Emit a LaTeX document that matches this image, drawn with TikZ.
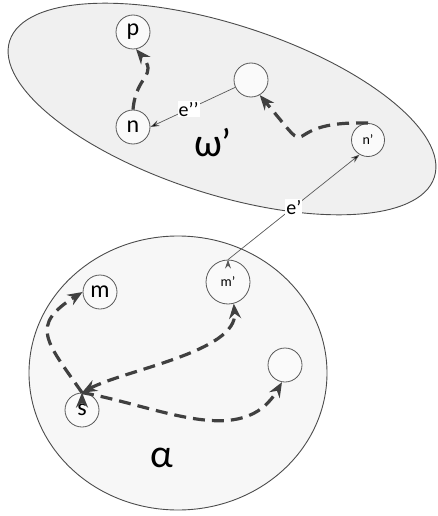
\documentclass[tikz,border=0pt]{standalone}
\usepackage{fontspec}
\setmainfont{Carlito}
\usetikzlibrary{arrows.meta}

\begin{document}
\begin{tikzpicture}[x=1pt,y=-1pt,
    region/.style={draw=black!70,line width=0.9pt},
    state/.style={circle,draw=black!65,fill=black!2,line width=0.8pt,minimum size=34pt,inner sep=0pt,font=\fontsize{24}{24}\selectfont},
    small state/.style={state,font=\fontsize{14}{14}\selectfont},
    walk/.style={draw=black!75,line width=3.2pt,dash pattern=on 12pt off 7pt,-{Stealth[length=15pt,width=12pt,inset=5pt]}},
    link/.style={draw=black!65,line width=0.7pt,-{Stealth[length=9pt,width=6pt]}},
    link label/.style={fill=white,inner sep=1pt,font=\fontsize{20}{20}\selectfont}]
            \useasboundingbox (0,0) rectangle (438,516);

            % the two regions
            \draw[region,fill=black!6,rotate around={-17.8:(222,109)}] (222,109) ellipse [x radius=223pt, y radius=85pt];
            \draw[region,fill=black!3] (178,373) ellipse [x radius=149pt, y radius=137pt];

            \node[font=\fontsize{40}{40}\selectfont] (omega) at (213,143) {ω’};
            \node[font=\fontsize{40}{40}\selectfont] (alpha) at (162,458) {α};

            % upper region
            \node[state] (p) at (133,32) {p};
            \node[state] (n) at (133,127) {n};
            \node[state] (u) at (251,80) {};
            \node[small state,minimum size=33pt] (n1) at (368,140) {n’};

            % lower region
            \node[state] (m) at (100,292) {m};
            \node[state] (s) at (82,410) {s};
            \node[state] (v) at (285,365) {};
            \node[small state,minimum size=44pt] (m1) at (228,282) {m’};

            \path[link]
                (u.-155) edge node[link label,pos=0.55] {e’’} (n.east)
                (m1.north) edge node[link label] {e’} (n1.-120)
                ;

            \path[walk]
                (n.north) edge[out=85,in=-50,looseness=1.5] (p.-80)
                (n1.north) edge[out=178,in=-50,looseness=2.2] (u.-60)
                (s.north) edge[out=125,in=-148,looseness=1.6] (m.west)
                (s.north) edge[out=-10,in=-120] (v.-100)
                (s.north) edge[{Stealth[length=15pt,width=12pt,inset=5pt]}-{Stealth[length=15pt,width=12pt,inset=5pt]},out=28,in=-85,looseness=0.7] (m1.-75)
                ;
        \end{tikzpicture}
\end{document}
